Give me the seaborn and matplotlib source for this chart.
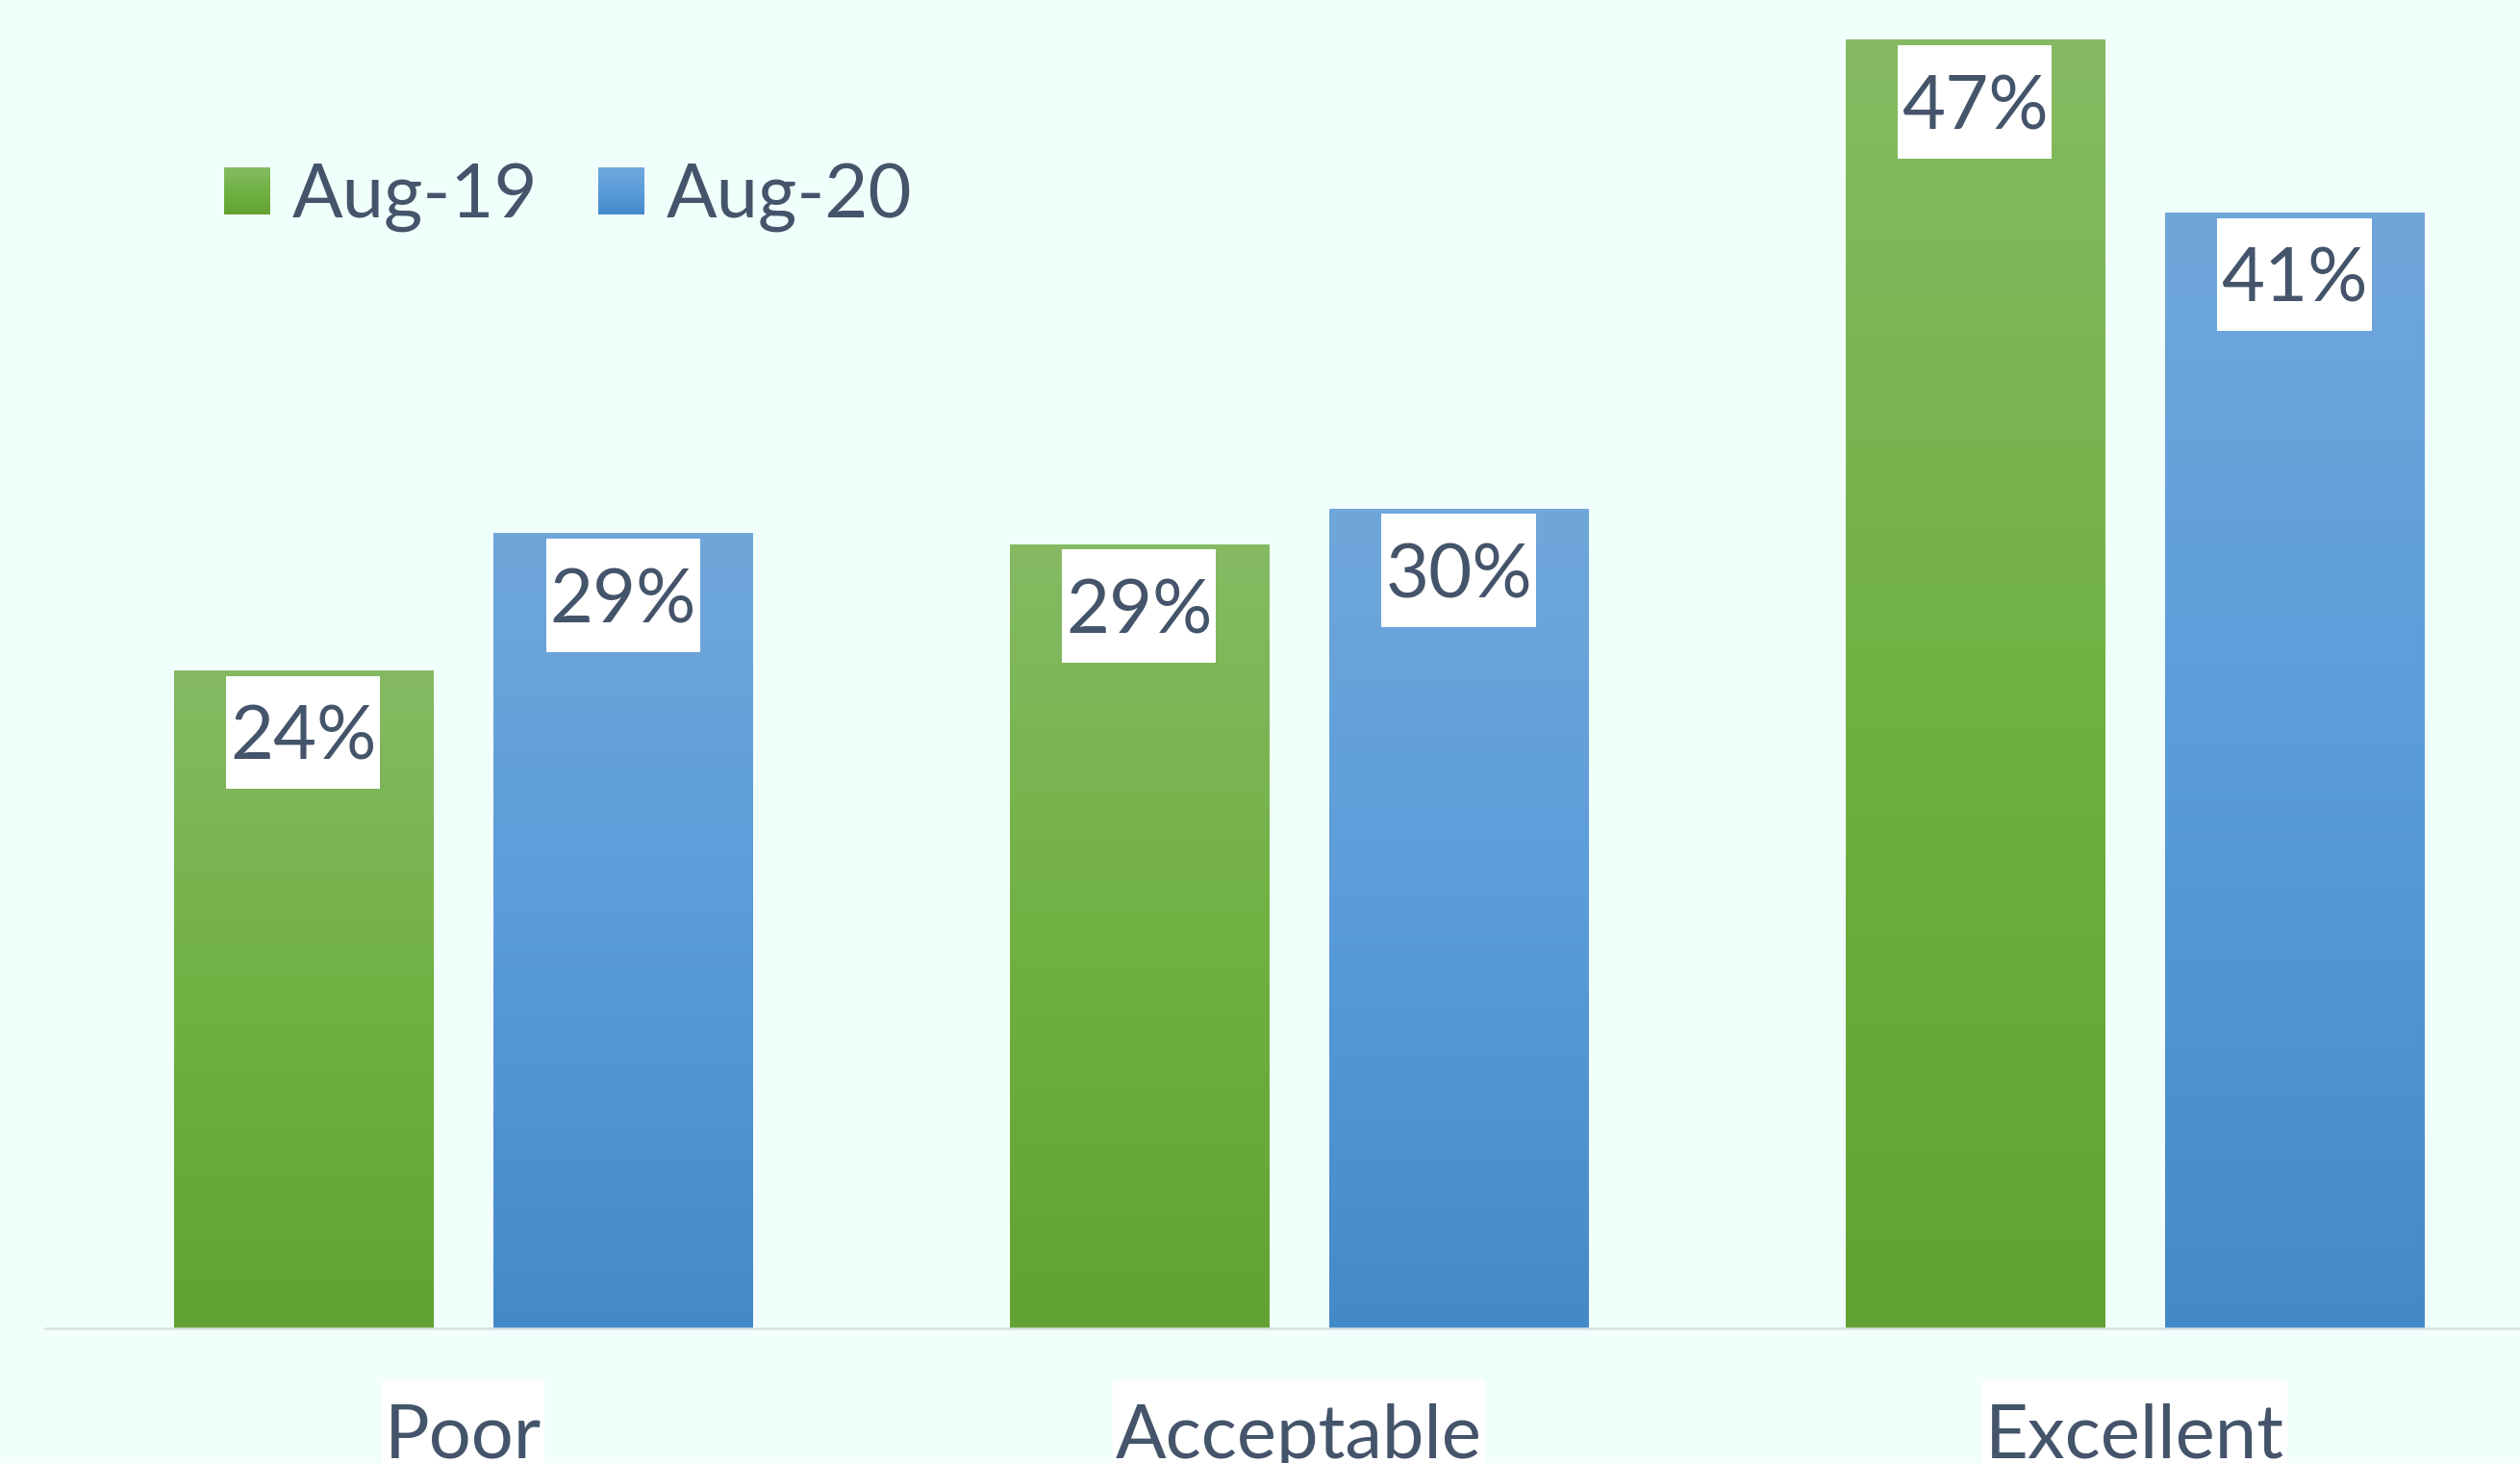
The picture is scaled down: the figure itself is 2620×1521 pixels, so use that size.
import numpy as np
import pandas as pd
import matplotlib
matplotlib.use("Agg")
import matplotlib.pyplot as plt
import seaborn as sns
from matplotlib.patches import Rectangle
from matplotlib.path import Path
from matplotlib.legend_handler import HandlerBase
from matplotlib.colors import LinearSegmentedColormap

# ---- data ----
categories = ["Poor", "Acceptable", "Excellent"]
series = ["Aug-19", "Aug-20"]
aug19 = [24.0, 28.6, 47.0]
aug20 = [29.0, 29.9, 40.7]

# ---- styles ----
GRAD = {"Aug-19": ["#85BA63", "#71B143", "#62A233"],
        "Aug-20": ["#70A7DB", "#5A9CDA", "#448AC9"]}
TEXT = "#44546A"
BG = "#F1FFFC"

df = pd.DataFrame({
    "category": categories * 2,
    "series": [series[0]] * len(categories) + [series[1]] * len(categories),
    "value": aug19 + aug20,
})

sns.set_theme(style="white")
plt.rcParams["font.family"] = ["Lato", "DejaVu Sans"]


def make_box(px, py, shift=0.0):
    def box(x0, y0, width, height, mutation_size):
        dx = px * mutation_size
        dy = py * mutation_size
        s = shift * mutation_size
        verts = [(x0 - dx, y0 - dy + s), (x0 + width + dx, y0 - dy + s),
                 (x0 + width + dx, y0 + height + dy + s),
                 (x0 - dx, y0 + height + dy + s), (x0 - dx, y0 - dy + s)]
        return Path(verts, closed=True)
    return box


W, H, DPI = 2620, 1521, 100
fig = plt.figure(figsize=(W / DPI, H / DPI), dpi=DPI, facecolor=BG)
ax = fig.add_axes([47 / W, 1 - 1381 / H, 1 - 47 / W, 1381 / H])
ax.set_facecolor(BG)

sns.barplot(data=df, x="category", y="value", hue="series", order=categories,
            hue_order=series, palette={s: GRAD[s][1] for s in series},
            width=0.765, gap=0.19, saturation=1, errorbar=None, legend=False, ax=ax)

ax.set_xlim(-0.5, 2.461)
ax.set_ylim(0, 48.45)

# gradient fill for bars + value labels
grad = np.linspace(0, 1, 256).reshape(-1, 1)
for cont, s, vals in zip(ax.containers, series, [aug19, aug20]):
    cmap = LinearSegmentedColormap.from_list(s, GRAD[s])
    for bar, v in zip(cont, vals):
        x0, y0, w, h = bar.get_x(), bar.get_y(), bar.get_width(), bar.get_height()
        im = ax.imshow(grad, cmap=cmap, extent=[x0, x0 + w, y0, y0 + h],
                       aspect="auto", origin="upper", interpolation="bilinear",
                       zorder=bar.get_zorder())
        im.set_clip_path(bar)
        bar.set_facecolor("none")
        bar.set_edgecolor("none")
        ax.annotate(f"{v:.0f}%", xy=(x0 + w / 2, y0 + h), xytext=(0, -51.5),
                    textcoords="offset points", ha="center", va="center",
                    fontsize=56, color=TEXT, zorder=6,
                    bbox=dict(boxstyle=make_box(0.05, 0.3, 0.09), fc="white", ec="none"))

ax.set_xlim(-0.5, 2.461)
ax.set_ylim(0, 48.45)

ax.set_xlabel("")
ax.set_ylabel("")
ax.set_yticks([])
ax.tick_params(axis="x", length=0, pad=56, labelsize=56, labelcolor=TEXT)
for t in ax.get_xticklabels():
    t.set_bbox(dict(boxstyle=make_box(0.04, 0.3), fc="white", ec="none"))

for side in ["top", "right", "left"]:
    ax.spines[side].set_visible(False)
ax.spines["bottom"].set_color("#D9E0E2")
ax.spines["bottom"].set_linewidth(1.8)


class GradHandler(HandlerBase):
    def __init__(self, colors, n=40):
        super().__init__()
        self.cmap = LinearSegmentedColormap.from_list("g", colors)
        self.n = n

    def create_artists(self, legend, orig_handle, xdescent, ydescent,
                       width, height, fontsize, trans):
        arts = []
        for i in range(self.n):
            y = -ydescent + height * (1 - (i + 1) / self.n)
            r = Rectangle((-xdescent, y), width, height / self.n * 1.05,
                          facecolor=self.cmap(i / (self.n - 1)),
                          edgecolor="none", lw=0, transform=trans)
            arts.append(r)
        return arts


handles = [Rectangle((0, 0), 1, 1, label=s) for s in series]
handler_map = {h: GradHandler(GRAD[s]) for h, s in zip(handles, series)}
fig.legend(handles=handles, labels=series, handler_map=handler_map,
           loc="center left", bbox_to_anchor=(233 / W, 1 - 205 / H),
           bbox_transform=fig.transFigure, ncol=2, frameon=False,
           fontsize=56, labelcolor=TEXT, handlelength=0.615, handleheight=0.6,
           handletextpad=0.3, columnspacing=0.8, borderpad=0, borderaxespad=0)

fig.savefig("out.png", dpi=DPI, facecolor=BG)
